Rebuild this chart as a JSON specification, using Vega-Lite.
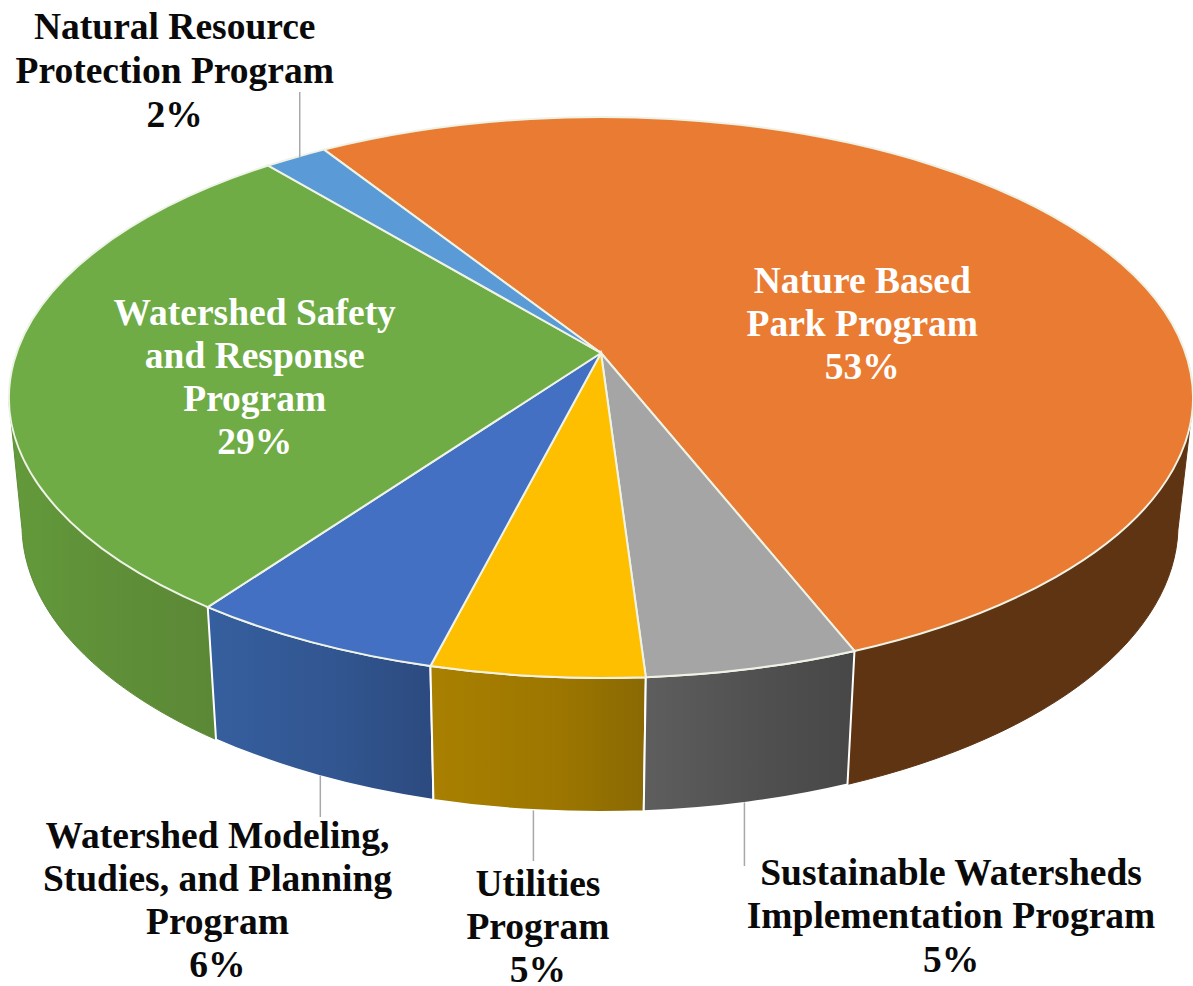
{
  "$schema": "https://vega.github.io/schema/vega-lite/v6.json",
  "width": 1193,
  "height": 986,
  "padding": 0,
  "autosize": {"type": "none"},
  "background": "white",
  "view": {"stroke": null},
  "data": {"values": [
    {"program": "Nature Based Park Program", "label": "Nature Based\nPark Program", "share": 53},
    {"program": "Sustainable Watersheds Implementation Program", "label": "Sustainable Watersheds\nImplementation Program", "share": 5},
    {"program": "Utilities Program", "label": "Utilities\nProgram", "share": 5},
    {"program": "Watershed Modeling, Studies, and Planning Program", "label": "Watershed Modeling,\nStudies, and Planning\nProgram", "share": 6},
    {"program": "Watershed Safety and Response Program", "label": "Watershed Safety\nand Response\nProgram", "share": 29},
    {"program": "Natural Resource Protection Program", "label": "Natural Resource\nProtection Program", "share": 2}
  ]},
  "transform": [
    {"window": [{"op": "sum", "field": "share", "as": "cumEnd"}], "frame": [null, 0]},
    {"calculate": "datum.cumEnd - datum.share", "as": "cumStart"},
    {"calculate": "datum.label + '\\n' + datum.share + '%'", "as": "caption"},
    {"calculate": "(327.5 + datum.cumStart * 3.6) * PI / 180", "as": "t0"},
    {"calculate": "(327.5 + datum.cumEnd * 3.6) * PI / 180", "as": "t1"},
    {"calculate": "(datum.t0 + datum.t1) / 2", "as": "tm"},
    {"calculate": "max(datum.t0, 460 * PI / 180)", "as": "s0"},
    {"calculate": "min(datum.t1, 620 * PI / 180)", "as": "s1"},
    {"calculate": "(datum.s0 + datum.s1) / 2", "as": "sm"},
    {"calculate": "584.5 * sin(datum.tm) / (1 + 0.1586 * cos(datum.tm))", "as": "rimX"},
    {"calculate": "-273.4 * cos(datum.tm) / (1 + 0.1586 * cos(datum.tm))", "as": "rimY"},
    {"calculate": "-1 + 570.7 * sin(datum.tm) / (1 + 0.1586 * cos(datum.tm))", "as": "baseX"},
    {"calculate": "126.5 - 279.8 * cos(datum.tm) / (1 + 0.1586 * cos(datum.tm))", "as": "baseY"},
    {"calculate": "round(58450 * sin(datum.t0) / (1 + 0.1586 * cos(datum.t0))) / 100 + ',' + round(-27340 * cos(datum.t0) / (1 + 0.1586 * cos(datum.t0))) / 100", "as": "top0"},
    {"calculate": "round(58450 * sin(datum.tm) / (1 + 0.1586 * cos(datum.tm))) / 100 + ',' + round(-27340 * cos(datum.tm) / (1 + 0.1586 * cos(datum.tm))) / 100", "as": "topM"},
    {"calculate": "round(58450 * sin(datum.t1) / (1 + 0.1586 * cos(datum.t1))) / 100 + ',' + round(-27340 * cos(datum.t1) / (1 + 0.1586 * cos(datum.t1))) / 100", "as": "top1"},
    {"calculate": "round(58450 * sin(datum.s0) / (1 + 0.1586 * cos(datum.s0))) / 100 + ',' + round(-27340 * cos(datum.s0) / (1 + 0.1586 * cos(datum.s0))) / 100", "as": "wallTop0"},
    {"calculate": "round(58450 * sin(datum.sm) / (1 + 0.1586 * cos(datum.sm))) / 100 + ',' + round(-27340 * cos(datum.sm) / (1 + 0.1586 * cos(datum.sm))) / 100", "as": "wallTopM"},
    {"calculate": "round(58450 * sin(datum.s1) / (1 + 0.1586 * cos(datum.s1))) / 100 + ',' + round(-27340 * cos(datum.s1) / (1 + 0.1586 * cos(datum.s1))) / 100", "as": "wallTop1"},
    {"calculate": "round(-100 + 57070 * sin(datum.s0) / (1 + 0.1586 * cos(datum.s0))) / 100 + ',' + round(12650 - 27980 * cos(datum.s0) / (1 + 0.1586 * cos(datum.s0))) / 100", "as": "wallBase0"},
    {"calculate": "round(-100 + 57070 * sin(datum.sm) / (1 + 0.1586 * cos(datum.sm))) / 100 + ',' + round(12650 - 27980 * cos(datum.sm) / (1 + 0.1586 * cos(datum.sm))) / 100", "as": "wallBaseM"},
    {"calculate": "round(-100 + 57070 * sin(datum.s1) / (1 + 0.1586 * cos(datum.s1))) / 100 + ',' + round(12650 - 27980 * cos(datum.s1) / (1 + 0.1586 * cos(datum.s1))) / 100", "as": "wallBase1"},
    {"calculate": "'M0,0L' + datum.top0 + 'A592,280.5 0 0 1 ' + datum.topM + 'A592,280.5 0 0 1 ' + datum.top1 + 'Z'", "as": "wedgePath"},
    {"calculate": "'M' + datum.wallTop0 + 'A592,280.5 0 0 1 ' + datum.wallTopM + 'A592,280.5 0 0 1 ' + datum.wallTop1 + 'L' + datum.wallBase1 + 'A578,287 0 0 0 ' + datum.wallBaseM + 'A578,287 0 0 0 ' + datum.wallBase0 + 'Z'", "as": "wallPath"}
  ],
  "layer": [
    {
      "transform": [{"filter": "datum.share === 53"}],
      "mark": {"type": "point", "filled": true, "opacity": 1, "size": 4, "fill": "#5f3413", "stroke": "#5f3413", "strokeWidth": 1},
      "encoding": {
        "x": {"datum": 0, "type": "quantitative", "axis": null, "scale": {"domain": [-601, 592], "nice": false, "zero": false}},
        "y": {"datum": 0, "type": "quantitative", "axis": null, "scale": {"domain": [-353, 633], "nice": false, "zero": false, "reverse": true}},
        "shape": {"field": "wallPath", "type": "nominal", "scale": null}
      }
    },
    {
      "transform": [{"filter": "datum.share === 29"}],
      "mark": {"type": "point", "filled": true, "opacity": 1, "size": 4, "stroke": "#5d8c38", "strokeWidth": 1,
        "fill": {"gradient": "linear", "x1": 0, "y1": 0, "x2": 1, "y2": 0, "stops": [{"offset": 0, "color": "#639a3b"}, {"offset": 0.5, "color": "#5f8f38"}, {"offset": 1, "color": "#5b8836"}]}},
      "encoding": {
        "x": {"datum": 0, "type": "quantitative"},
        "y": {"datum": 0, "type": "quantitative"},
        "shape": {"field": "wallPath", "type": "nominal", "scale": null}
      }
    },
    {
      "transform": [{"filter": "datum.share === 6"}],
      "mark": {"type": "point", "filled": true, "opacity": 1, "size": 4, "stroke": "white", "strokeWidth": 2,
        "fill": {"gradient": "linear", "x1": 0, "y1": 0, "x2": 1, "y2": 0, "stops": [{"offset": 0, "color": "#365f9f"}, {"offset": 0.6, "color": "#31558f"}, {"offset": 1, "color": "#2c4a7f"}]}},
      "encoding": {
        "x": {"datum": 0, "type": "quantitative"},
        "y": {"datum": 0, "type": "quantitative"},
        "shape": {"field": "wallPath", "type": "nominal", "scale": null}
      }
    },
    {
      "transform": [{"filter": "datum.program === 'Utilities Program'"}],
      "mark": {"type": "point", "filled": true, "opacity": 1, "size": 4, "stroke": "white", "strokeWidth": 2,
        "fill": {"gradient": "linear", "x1": 0, "y1": 0, "x2": 1, "y2": 0, "stops": [{"offset": 0, "color": "#a98000"}, {"offset": 0.6, "color": "#9c7600"}, {"offset": 1, "color": "#8a6904"}]}},
      "encoding": {
        "x": {"datum": 0, "type": "quantitative"},
        "y": {"datum": 0, "type": "quantitative"},
        "shape": {"field": "wallPath", "type": "nominal", "scale": null}
      }
    },
    {
      "transform": [{"filter": "datum.program === 'Sustainable Watersheds Implementation Program'"}],
      "mark": {"type": "point", "filled": true, "opacity": 1, "size": 4, "stroke": "white", "strokeWidth": 2,
        "fill": {"gradient": "linear", "x1": 0, "y1": 0, "x2": 1, "y2": 0, "stops": [{"offset": 0, "color": "#5e5e5e"}, {"offset": 0.6, "color": "#4f4f4f"}, {"offset": 1, "color": "#474747"}]}},
      "encoding": {
        "x": {"datum": 0, "type": "quantitative"},
        "y": {"datum": 0, "type": "quantitative"},
        "shape": {"field": "wallPath", "type": "nominal", "scale": null}
      }
    },
    {
      "mark": {"type": "point", "filled": true, "opacity": 1, "size": 4, "stroke": "#eef3e6", "strokeWidth": 2},
      "encoding": {
        "x": {"datum": 0, "type": "quantitative"},
        "y": {"datum": 0, "type": "quantitative"},
        "shape": {"field": "wedgePath", "type": "nominal", "scale": null},
        "color": {"field": "program", "type": "nominal", "legend": null, "scale": {
          "domain": ["Nature Based Park Program", "Sustainable Watersheds Implementation Program", "Utilities Program", "Watershed Modeling, Studies, and Planning Program", "Watershed Safety and Response Program", "Natural Resource Protection Program"],
          "range": ["#ea7b33", "#a5a5a5", "#fdbf00", "#4370c2", "#6fac46", "#5a9ad6"]}}
      }
    },
    {
      "transform": [{"filter": "datum.share === 2"}],
      "mark": {"type": "rule", "stroke": "#a8a8a8", "strokeWidth": 1.5, "xOffset": 4},
      "encoding": {
        "x": {"field": "rimX", "type": "quantitative"},
        "y": {"field": "rimY", "type": "quantitative"},
        "y2": {"datum": -261}
      }
    },
    {
      "transform": [{"filter": "datum.share === 6"}],
      "mark": {"type": "rule", "stroke": "#a8a8a8", "strokeWidth": 1.5, "xOffset": 3},
      "encoding": {
        "x": {"field": "baseX", "type": "quantitative"},
        "y": {"field": "baseY", "type": "quantitative"},
        "y2": {"datum": 464}
      }
    },
    {
      "transform": [{"filter": "datum.program === 'Utilities Program'"}],
      "mark": {"type": "rule", "stroke": "#a8a8a8", "strokeWidth": 1.5, "xOffset": -4},
      "encoding": {
        "x": {"field": "baseX", "type": "quantitative"},
        "y": {"field": "baseY", "type": "quantitative"},
        "y2": {"datum": 508}
      }
    },
    {
      "transform": [{"filter": "datum.program === 'Sustainable Watersheds Implementation Program'"}],
      "mark": {"type": "rule", "stroke": "#a8a8a8", "strokeWidth": 1.5, "xOffset": -4},
      "encoding": {
        "x": {"field": "baseX", "type": "quantitative"},
        "y": {"field": "baseY", "type": "quantitative"},
        "y2": {"datum": 513}
      }
    },
    {
      "transform": [{"filter": "datum.share === 53"}],
      "mark": {"type": "text", "font": "Liberation Serif", "fontWeight": "bold", "fontSize": 37.5, "lineHeight": 43, "lineBreak": "\n", "align": "center", "baseline": "middle", "fill": "white", "dx": -224, "dy": 45},
      "encoding": {
        "x": {"field": "rimX", "type": "quantitative"},
        "y": {"field": "rimY", "type": "quantitative"},
        "text": {"field": "caption"}
      }
    },
    {
      "transform": [{"filter": "datum.share === 29"}],
      "mark": {"type": "text", "font": "Liberation Serif", "fontWeight": "bold", "fontSize": 37.5, "lineHeight": 43, "lineBreak": "\n", "align": "center", "baseline": "middle", "fill": "white", "dx": 241, "dy": -48},
      "encoding": {
        "x": {"field": "rimX", "type": "quantitative"},
        "y": {"field": "rimY", "type": "quantitative"},
        "text": {"field": "caption"}
      }
    },
    {
      "transform": [{"filter": "datum.share === 2"}],
      "mark": {"type": "text", "font": "Liberation Serif", "fontWeight": "bold", "fontSize": 37.5, "lineHeight": 44, "lineBreak": "\n", "align": "center", "baseline": "middle", "fill": "#0a0a0a", "dx": -121, "dy": -129},
      "encoding": {
        "x": {"field": "rimX", "type": "quantitative"},
        "y": {"field": "rimY", "type": "quantitative"},
        "text": {"field": "caption"}
      }
    },
    {
      "transform": [{"filter": "datum.share === 6"}],
      "mark": {"type": "text", "font": "Liberation Serif", "fontWeight": "bold", "fontSize": 37.5, "lineHeight": 43, "lineBreak": "\n", "align": "center", "baseline": "middle", "fill": "#0a0a0a", "dx": -94, "dy": 195},
      "encoding": {
        "x": {"field": "rimX", "type": "quantitative"},
        "y": {"field": "rimY", "type": "quantitative"},
        "text": {"field": "caption"}
      }
    },
    {
      "transform": [{"filter": "datum.program === 'Utilities Program'"}],
      "mark": {"type": "text", "font": "Liberation Serif", "fontWeight": "bold", "fontSize": 37.5, "lineHeight": 43, "lineBreak": "\n", "align": "center", "baseline": "middle", "fill": "#0a0a0a", "dx": 1, "dy": 209},
      "encoding": {
        "x": {"field": "rimX", "type": "quantitative"},
        "y": {"field": "rimY", "type": "quantitative"},
        "text": {"field": "caption"}
      }
    },
    {
      "transform": [{"filter": "datum.program === 'Sustainable Watersheds Implementation Program'"}],
      "mark": {"type": "text", "font": "Liberation Serif", "fontWeight": "bold", "fontSize": 37.5, "lineHeight": 43.5, "lineBreak": "\n", "align": "center", "baseline": "middle", "fill": "#0a0a0a", "dx": 198, "dy": 205},
      "encoding": {
        "x": {"field": "rimX", "type": "quantitative"},
        "y": {"field": "rimY", "type": "quantitative"},
        "text": {"field": "caption"}
      }
    }
  ]
}
